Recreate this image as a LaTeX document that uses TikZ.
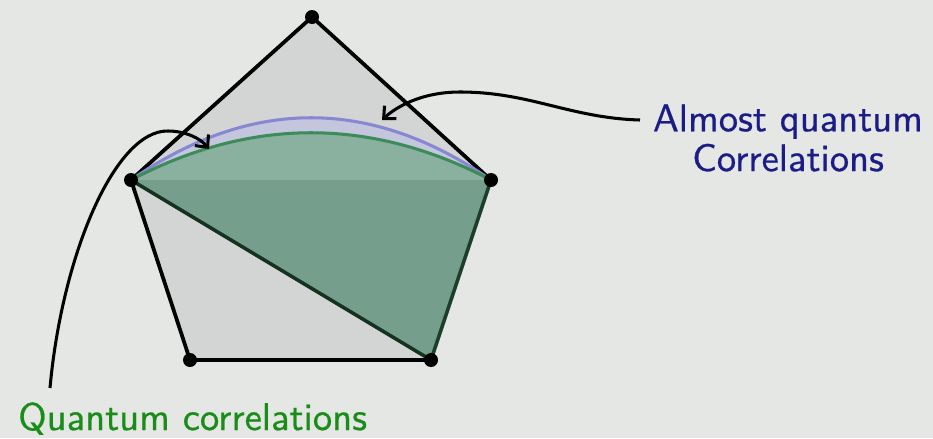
\documentclass[tikz,border=0pt]{standalone}
\usepackage{fontspec}
\usetikzlibrary{arrows.meta}
\newfontfamily\lblfont{lmsans10-regular.otf}[FakeBold=0.6]
\definecolor{bg}{RGB}{228,231,228}
\definecolor{pentfill}{RGB}{210,213,211}
\definecolor{aqfill}{RGB}{196,198,222}
\definecolor{aqline}{RGB}{135,135,210}
\definecolor{qfillA}{RGB}{138,176,160}
\definecolor{qfillB}{RGB}{118,158,140}
\definecolor{qline}{RGB}{60,140,90}
\definecolor{navy}{RGB}{28,28,135}
\definecolor{qgreen}{RGB}{25,140,25}
\tikzset{
  vdot/.style={circle,fill=black,inner sep=0pt,minimum size=0.42cm},
  edge/.style={line width=3.2pt,black},
  pointer/.style={line width=2.6pt,black,-{Straight Barb[length=8pt,width=15pt,line width=2.6pt]}},
  lbl/.style={font=\lblfont\fontsize{33}{34}\selectfont,inner sep=0pt}
}
\begin{document}
\begin{tikzpicture}[x=0.03cm,y=-0.03cm]
\fill[bg] (0,0) rectangle (933,438);
\useasboundingbox (0,0) rectangle (933,438);
% vertices
\coordinate (T) at (312,17);
\coordinate (L) at (131,180);
\coordinate (R) at (491,180);
\coordinate (BL) at (190,360);
\coordinate (BR) at (431,360);
% pentagon fill
\fill[pentfill] (T) -- (R) -- (BR) -- (BL) -- (L) -- cycle;
% almost quantum region
\fill[aqfill] (L) .. controls (251,97) and (371,97) .. (R) -- cycle;
% quantum region
\fill[qfillA] (L) .. controls (251,117) and (371,117) .. (R) -- cycle;
\fill[qfillB] (L) -- (R) -- (BR) -- cycle;
% pentagon edges
\draw[edge,line join=round] (L) -- (T) -- (R);
\draw[edge] (L) -- (BL) -- (BR);
\draw[line width=3pt,black!65!qline] (L) -- (BR);
\draw[line width=3pt,black!55!qline] (BR) -- (R);
% boundary curves
\draw[aqline,line width=2.6pt] (L) .. controls (251,97) and (371,97) .. (R);
\draw[qline,line width=2.6pt] (L) .. controls (251,117) and (371,117) .. (R);
% vertex dots
\foreach \v in {T,L,R,BL,BR} \node[vdot] (d\v) at (\v) {};
% labels
\node[lbl,text=navy,align=center] (aq) at (788,138) {Almost quantum\\Correlations};
\node[lbl,text=qgreen,anchor=base west] (qc) at (18,430) {Quantum correlations};
% pointers
\coordinate (aqs) at (640,120);
\coordinate (aqe) at (382,120);
\coordinate (qs) at (50,388);
\coordinate (qe) at (209,149);
\draw[pointer] (aqs) .. controls (570,118) and (530,92) .. (460,92) .. controls (420,92) and (395,108) .. (aqe);
\draw[pointer] (qs) .. controls (62,255) and (115,130) .. (168,131) .. controls (185,131) and (200,138) .. (qe);
\end{tikzpicture}
\end{document}
